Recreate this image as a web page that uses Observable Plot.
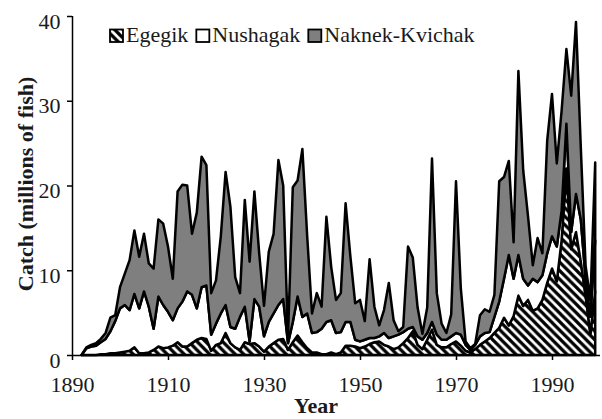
<!DOCTYPE html>
<html><head><meta charset="utf-8">
<script src="https://cdn.jsdelivr.net/npm/d3@7"></script>
<script src="https://cdn.jsdelivr.net/npm/@observablehq/plot@0.6"></script>
<style>body{margin:0;background:#fff} svg{display:block}</style>
</head><body><div id="chart"></div>
<script>
// ---- data (millions of fish) ----
const firstYear = 1892;
const egegik = [0,0,0,0,0.1,0.1,0.2,0.2,0.3,0.4,0.5,0.9,0.2,0.2,0.3,0.6,1.0,0.8,0.9,1.1,
  1.5,1.0,1.0,1.4,1.8,2.0,1.9,0.5,1.2,1.4,2.6,1.4,0.9,0.6,1.5,1.3,1.4,1.0,0.4,1.0,
  1.4,1.8,1.9,0.6,1.5,2.3,1.5,0.8,0.3,0.3,0.1,0.1,0.3,0.1,0.3,1.1,1.1,1.0,0.8,1.0,
  1.3,1.5,1.6,1.2,1.0,0.7,0.9,1.4,2.0,2.8,1.2,0.7,1.8,3.0,1.2,0.9,0.9,1.3,1.6,1.1,
  0.5,0.3,0.7,1.2,1.6,2.0,2.6,3.2,4.4,3.5,4.6,7.0,5.8,6.5,5.2,5.5,6.5,8.5,10.2,8.7,
  13.5,22.0,12.5,14.5,11.0,7.0,2.5,7.5];
const nushagak = [0,0.8,1.0,1.1,1.4,1.8,2.6,3.8,5.2,5.5,4.8,6.3,5.3,7.3,5.4,2.5,5.9,5.1,4.2,3.0,
  4.0,5.3,6.5,5.7,3.7,6.0,6.3,1.9,2.5,3.5,3.3,1.9,2.2,3.9,4.2,0.3,5.2,4.7,1.8,2.9,
  3.5,4.1,4.7,0.8,2.4,4.6,3.0,4.1,2.3,2.4,3.0,3.8,3.8,2.5,2.4,2.8,2.8,0.8,0.8,0.8,
  0.7,0.5,0.6,1.4,1.0,1.5,1.5,1.3,1.1,0.5,1.0,1.1,0.8,0.9,1.2,0.9,0.9,0.9,1.0,1.3,
  0.7,0.3,0.5,1.0,1.0,0.7,1.9,3.1,4.6,8.3,4.4,4.8,3.2,1.7,3.8,3.1,2.9,3.5,3.8,4.1,
  3.5,5.3,2.0,4.5,5.0,2.0,2.0,6.0];
const naknekKvichak = [0,0.1,0.2,0.3,0.4,0.7,1.6,0.7,2.5,3.7,5.9,7.5,6.1,6.8,5.1,7.1,9.1,9.6,7.7,4.9,
  13.8,13.8,12.5,7.2,11.3,15.4,14.2,4.9,5.1,9.1,15.7,14.2,6.1,2.8,12.6,9.4,12.7,6.3,3.6,8.3,
  9.4,17.1,13.4,0.8,15.9,13.7,19.8,9.1,2.3,4.6,2.6,12.4,6.3,3.9,4.6,14.0,7.7,4.3,4.9,2.2,
  9.3,3.7,1.3,2.7,6.5,1.9,0.4,0.6,9.7,8.2,3.4,0.7,3.0,19.3,4.9,1.9,0.8,2.6,17.9,5.5,
  0.4,0.2,0.1,2.5,2.8,2.4,2.6,14.2,12.0,11.1,4.3,21.7,12.8,8.2,1.6,5.2,2.6,13.3,16.8,9.8,
  11.8,8.8,16.1,20.3,8.5,1.5,2.0,9.2];
const seriesNames = ["Egegik", "Nushagak", "Naknek-Kvichak"];
const xTicks = [1890, 1910, 1930, 1950, 1970, 1990];
const yTicks = [0, 10, 20, 30, 40];
const xTitle = "Year";
const yTitle = "Catch (millions of fish)";

const seriesValues = [egegik, nushagak, naknekKvichak];
const years = egegik.map((_, i) => firstYear + i);
const data = years.flatMap((yr, i) => seriesNames.map((s, k) => ({year: yr, series: s, value: seriesValues[k][i]})));
const fills = ["url(#hatch)", "white", "#7f7f7f"];

const FONT = "Liberation Serif, Times New Roman, serif";

const plot = Plot.plot({
  width: 602, height: 419,
  marginLeft: 72, marginRight: 2, marginTop: 16, marginBottom: 64,
  style: {fontFamily: FONT, fontSize: "22px", color: "#1a1a1a", background: "white", overflow: "visible"},
  x: {domain: [1890, 2000]},
  y: {domain: [0, 40]},
  color: {domain: seriesNames, range: fills},
  marks: [
    Plot.areaY(data, {x: "year", y: "value", z: "series", fill: "series", order: seriesNames,
      stroke: "black", strokeWidth: 2.5, strokeLinejoin: "round"}),
    Plot.axisX({ticks: xTicks, tickSize: 5, tickPadding: 16, tickFormat: d => String(d), label: null,
      stroke: "black", strokeWidth: 1.5, fill: "#1a1a1a", letterSpacing: "-0.4px"}),
    Plot.axisY({ticks: yTicks, tickSize: 5, tickFormat: () => "", label: null, stroke: "black", strokeWidth: 1.5}),
    Plot.text(yTicks, {x: 1890, y: d => d, text: d => String(d), dx: -12, dy: 5, textAnchor: "end",
      fill: "#1a1a1a", fontSize: 22, letterSpacing: "-0.4px"}),
    Plot.ruleX([1890], {stroke: "black", strokeWidth: 1.5}),
    Plot.ruleY([0], {stroke: "black", strokeWidth: 1.5})
  ]
});

document.getElementById("chart").appendChild(plot);

const svg = d3.select(plot);
const defs = svg.insert("defs", ":first-child");
const pat = defs.append("pattern").attr("id", "hatch").attr("patternUnits", "userSpaceOnUse")
  .attr("width", 8.5).attr("height", 8.5);
pat.append("rect").attr("width", 8.5).attr("height", 8.5).attr("fill", "white");
pat.append("path").attr("d", "M-2,-2L10.5,10.5M-2,6.5L2,10.5M6.5,-2L10.5,2")
  .attr("stroke", "black").attr("stroke-width", 3.2);

// legend
const lg = svg.append("g").attr("font-family", FONT).attr("font-size", 22)
  .attr("text-anchor", "start").attr("fill", "#1a1a1a");
let lx = 110;
seriesNames.forEach((name, k) => {
  lg.append("rect").attr("x", lx).attr("y", 29.5).attr("width", 13).attr("height", 12.5)
    .attr("fill", fills[k]).attr("stroke", "black").attr("stroke-width", 1.8);
  const t = lg.append("text").attr("x", lx + 16).attr("y", 42).attr("text-anchor", "start").text(name);
  lx = lx + 16 + t.node().getComputedTextLength() + 8;
});

// axis titles
svg.append("text").attr("x", 316).attr("y", 413).attr("text-anchor", "middle")
  .attr("font-family", FONT).attr("font-weight", "bold").attr("font-size", 22).attr("fill", "#1a1a1a").text(xTitle);
svg.append("text").attr("transform", "translate(33,184) rotate(-90)").attr("text-anchor", "middle")
  .attr("font-family", FONT).attr("font-weight", "bold").attr("font-size", 22).attr("fill", "#1a1a1a").text(yTitle);
</script></body></html>
